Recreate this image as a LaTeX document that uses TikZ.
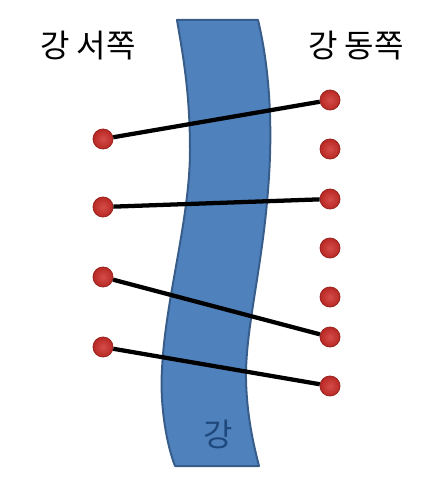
\documentclass[tikz,border=0pt]{standalone}
\usepackage{fontspec}
\setmainfont{Noto Sans CJK KR}
\usepackage{tikz}
\usepackage{xcolor}
\definecolor{riverblue}{RGB}{79,129,189}
\definecolor{riverline}{RGB}{56,93,138}
\definecolor{riverlabel}{RGB}{31,73,125}
\definecolor{dotred}{RGB}{205,45,40}

\begin{document}
\begin{tikzpicture}[x=0.75pt,y=-0.75pt,
  dot/.style={circle,inner sep=0pt,minimum size=15pt,draw=dotred!75!black,line width=0.6pt,
    inner color=dotred!85!white,outer color=dotred!90!black},
  bridge/.style={line width=3.2pt,black},
  bank/.style={font=\fontsize{24}{28}\selectfont}]
  \useasboundingbox (0,0) rectangle (428,477);
  % river
  \draw[riverline,fill=riverblue,line width=1.5pt,line join=round]
    (177,20) -- (258,20)
    .. controls (270,70) and (273,130) .. (268,190)
    .. controls (262,270) and (245,330) .. (246,380)
    .. controls (247,420) and (255,450) .. (259,466)
    -- (175,466)
    .. controls (165,440) and (160,400) .. (162,370)
    .. controls (165,300) and (190,220) .. (190,150)
    .. controls (190,90) and (182,50) .. (177,20) -- cycle;
  \node[bank,riverlabel] (river) at (218,434) {강};
  \node[bank] (west) at (88,46) {강 서쪽};
  \node[bank] (east) at (356,46) {강 동쪽};
  % dots
  \foreach \y [count=\i] in {139,207,277,347} \node[dot] (w\i) at (103,\y) {};
  \foreach \y [count=\i] in {100,149,199,248,297,337,386} \node[dot] (e\i) at (330,\y) {};
  % bridges
  \draw[bridge] (w1) -- (e1);
  \draw[bridge] (w2) -- (e3);
  \draw[bridge] (w3) -- (e6);
  \draw[bridge] (w4) -- (e7);
\end{tikzpicture}
\end{document}
